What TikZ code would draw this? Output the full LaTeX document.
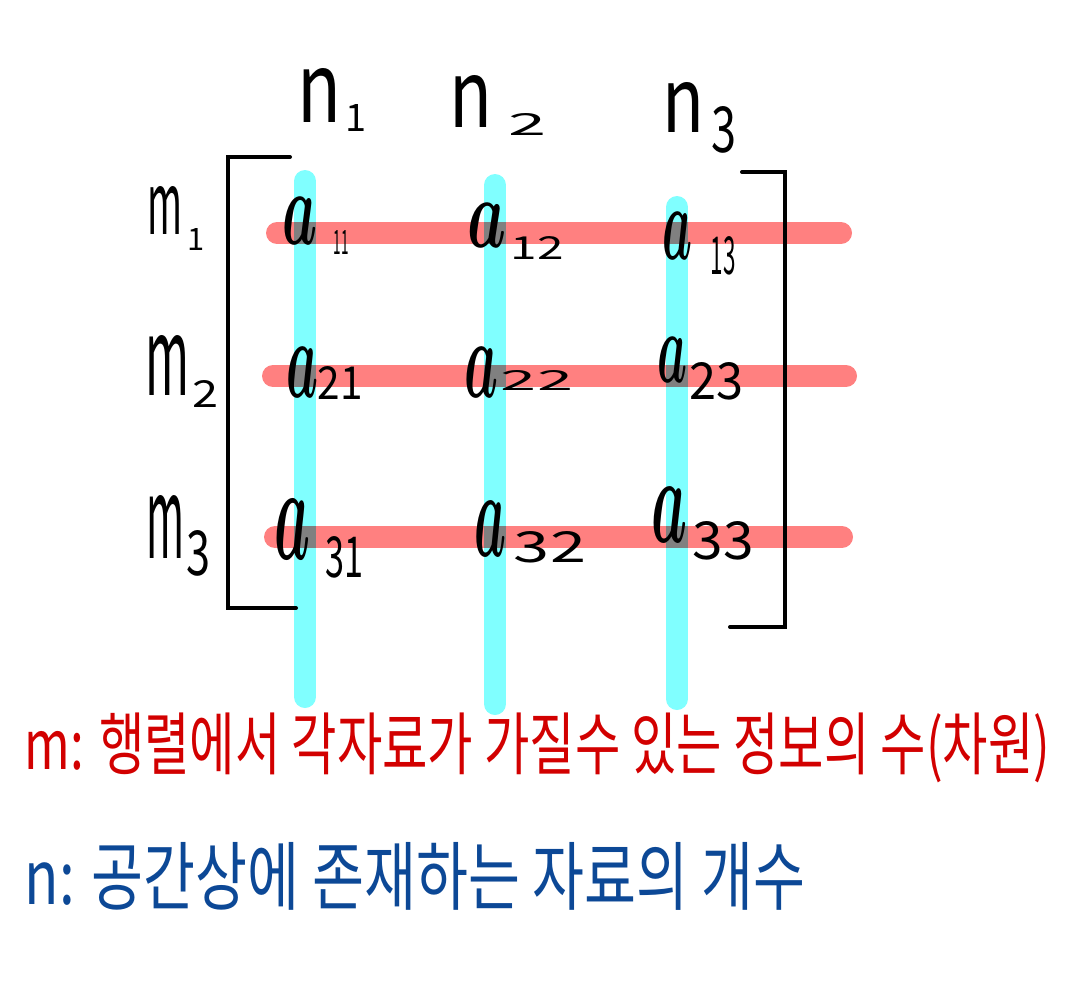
\documentclass[tikz,border=0pt]{standalone}
\usepackage{fontspec}
\usepackage{graphicx}
\setmainfont{Noto Sans CJK KR}
\newlength{\px}\setlength{\px}{0.025cm}
\newcommand{\gl}[3]{\resizebox{#1\px}{#2\px}{#3}}
\newcommand{\glh}[2]{\resizebox{!}{#1\px}{#2}}
\newcommand{\ava}{{\boldmath$a$}}
\definecolor{barred}{RGB}{255,128,128}
\definecolor{barcyan}{RGB}{128,255,255}
\definecolor{bargray}{RGB}{128,128,128}
\definecolor{legred}{RGB}{210,0,0}
\definecolor{legblue}{RGB}{12,72,150}
\begin{document}
\begin{tikzpicture}[x=0.025cm,y=-0.025cm,
  ink/.style={inner sep=0pt,outer sep=0pt,text=black},
  rowbar/.style={draw=barred,line width=22\px,line cap=round},
  colbar/.style={draw=barcyan,line width=22\px,line cap=round},
  cross/.style={fill=bargray,minimum size=22\px,inner sep=0pt,draw=none},
  brk/.style={draw=black,line width=4\px,line cap=round,line join=miter},
  legend/.style={anchor=west,inner sep=0pt,outer sep=0pt}]
\useasboundingbox (0,0) rectangle (1080,1000);
% bar end points
\coordinate (r1w) at (277,233); \coordinate (r1e) at (841,233);
\coordinate (r2w) at (273,376); \coordinate (r2e) at (846,376);
\coordinate (r3w) at (275,537); \coordinate (r3e) at (842,537);
\coordinate (c1n) at (305,181); \coordinate (c1s) at (305,697);
\coordinate (c2n) at (495,185); \coordinate (c2s) at (495,704);
\coordinate (c3n) at (677,207); \coordinate (c3s) at (677,699);
\draw[rowbar] (r1w) -- (r1e);
\draw[rowbar] (r2w) -- (r2e);
\draw[rowbar] (r3w) -- (r3e);
\draw[colbar] (c1n) -- (c1s);
\draw[colbar] (c2n) -- (c2s);
\draw[colbar] (c3n) -- (c3s);
% overlaps
\node[cross] (x11) at (305,233) {};
\node[cross] (x12) at (495,233) {};
\node[cross] (x13) at (677,233) {};
\node[cross] (x21) at (305,376) {};
\node[cross] (x22) at (495,376) {};
\node[cross] (x23) at (677,376) {};
\node[cross] (x31) at (305,537) {};
\node[cross] (x32) at (495,537) {};
\node[cross] (x33) at (677,537) {};
% brackets
\coordinate (lb1) at (290,157); \coordinate (lb2) at (228,157);
\coordinate (lb3) at (228,608); \coordinate (lb4) at (296,608);
\draw[brk] (lb1) -- (lb2) -- (lb3) -- (lb4);
\coordinate (rb1) at (742,172); \coordinate (rb2) at (785,172);
\coordinate (rb3) at (785,627); \coordinate (rb4) at (730,627);
\draw[brk] (rb1) -- (rb2) -- (rb3) -- (rb4);
% column labels
\node[ink] (n1) at (319,95) {\gl{44}{54}{n}};
\node[ink] (n1s) at (356,118) {\glh{27}{1}};
\node[ink] (n2) at (471,101) {\gl{43}{52}{n}};
\node[ink] (n2s) at (527,124) {\gl{38}{22}{2}};
\node[ink] (n3) at (683,107) {\gl{42}{50}{n}};
\node[ink] (n3s) at (724,130) {\gl{25}{46}{3}};
% row labels
\node[ink] (m1) at (165,210) {\gl{35}{48}{m}};
\node[ink] (m1s) at (196,239) {\glh{22}{1}};
\node[ink] (m2) at (167,365) {\gl{44}{60}{m}};
\node[ink] (m2s) at (206,394) {\gl{26}{27}{2}};
\node[ink] (m3) at (165,527) {\gl{38}{63}{m}};
\node[ink] (m3s) at (199,553) {\gl{24}{45}{3}};
% entries
\node[ink] (a11) at (300,221) {\gl{35}{47}{\ava}};
\node[ink] (a11s) at (341,242) {\gl{15}{24}{11}};
\node[ink] (a12) at (487,225) {\gl{39}{44}{\ava}};
\node[ink] (a12s) at (537,248) {\gl{53}{23}{12}};
\node[ink] (a13) at (677,236) {\gl{30}{47}{\ava}};
\node[ink] (a13s) at (723,256) {\gl{25}{38}{13}};
\node[ink] (a21) at (302,372) {\gl{32}{50}{\ava}};
\node[ink] (a21s) at (340,383) {\gl{45}{33}{21}};
\node[ink] (a22) at (481,372) {\gl{34}{50}{\ava}};
\node[ink] (a22s) at (537,380) {\gl{72}{20}{22}};
\node[ink] (a23) at (672,360) {\gl{30}{45}{\ava}};
\node[ink] (a23s) at (716,381) {\gl{54}{37}{23}};
\node[ink] (a31) at (292,529) {\gl{36}{60}{\ava}};
\node[ink] (a31s) at (344,557) {\gl{38}{41}{31}};
\node[ink] (a32) at (490,529) {\gl{32}{55}{\ava}};
\node[ink] (a32s) at (550,547) {\gl{72}{31}{32}};
\node[ink] (a33) at (669,515) {\gl{36}{55}{\ava}};
\node[ink] (a33s) at (723,541) {\gl{61}{38}{33}};
% legends
\node[legend,text=legred] (mdef) at (25,748)
  {\resizebox*{1025\px}{70\px}{m: 행렬에서 각자료가 가질수 있는 정보의 수(차원)}};
\node[legend,text=legblue] (ndef) at (25,876)
  {\resizebox*{780\px}{68\px}{n: 공간상에 존재하는 자료의 개수}};
\end{tikzpicture}
\end{document}
